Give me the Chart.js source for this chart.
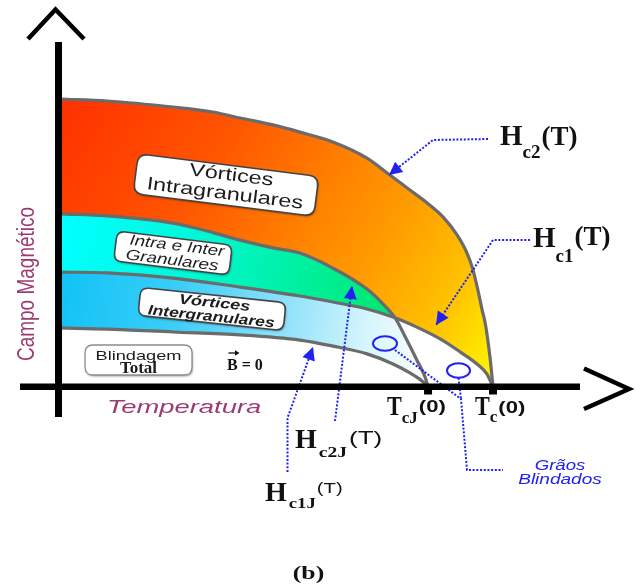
<!DOCTYPE html>
<html>
<head>
<meta charset="utf-8">
<script src="https://cdn.jsdelivr.net/npm/chart.js@4.4.1/dist/chart.umd.min.js"></script>
<style>
  html, body { margin: 0; padding: 0; background: #ffffff; }
  #wrap { width: 636px; height: 584px; }
</style>
</head>
<body>
<div id="wrap"><canvas id="c" width="636" height="584"></canvas></div>
<script>
// Reduced temperature (T / Tc x 100) and reduced field (H / Hc2(0) x 100)
// sampled along each critical line of the granular superconductor.
const T_HC2  = [0, 10.9, 26.1, 35.3, 41.6, 49.2, 55.4, 63.0, 70.9, 76.2, 80.8, 84.8, 88.5, 91.7, 94.0, 95.4, 96.5, 97.5, 98.2, 99.3, 100];
const H_HC2  = [100, 99.3, 97.2, 95.5, 93.4, 91.0, 88.5, 85.1, 79.5, 73.6, 68.4, 63.9, 59.0, 52.8, 46.5, 40.6, 33.7, 26.7, 22.2, 10.4, 0];

const T_HC2J = [0, 10.9, 26.1, 33.9, 41.6, 49.2, 55.4, 63.0, 70.9, 75.5, 77.4, 80.1, 82.4, 84.3, 85.0];
const H_HC2J = [60.1, 59.4, 56.9, 54.2, 51.0, 48.3, 46.5, 41.3, 34.0, 27.4, 24.0, 16.3, 9.4, 3.5, 0];

const T_HC1  = [0, 10.9, 26.1, 41.6, 55.4, 63.0, 70.9, 76.9, 82.4, 87.8, 92.4, 96.3, 98.6, 100];
const H_HC1  = [39.9, 39.6, 37.8, 34.7, 31.6, 29.5, 27.1, 24.3, 20.8, 16.7, 12.2, 8.0, 4.5, 0];

const T_HC1J = [0, 10.9, 26.1, 41.6, 55.4, 63.0, 70.9, 76.9, 80.8, 83.6, 85.0];
const H_HC1J = [20.5, 20.1, 19.1, 18.1, 16.3, 14.2, 11.5, 8.0, 4.9, 2.1, 0];

// Critical temperatures marked on the temperature axis
const CRIT_TEMPS = [85, 100];           // T_cJ(0), T_c(0)
const CRIT_SUBS  = ['cJ', 'c'];

// Region names
const REGION_INTRA   = ['Vórtices', 'Intragranulares'];
const REGION_MIXED   = ['Intra e Inter', 'Granulares'];
const REGION_INTER   = ['Vórtices', 'Intergranulares'];
const REGION_MEISSNER = ['Blindagem', 'Total'];
const GRAINS_LABEL   = ['Grãos', 'Blindados'];
const AXIS_Y_TITLE   = 'Campo Magnético';
const AXIS_X_TITLE   = 'Temperatura';
const PANEL_TAG      = '(b)';

const SANS = '"Liberation Sans", Arial, sans-serif';
const SERIF = '"Liberation Serif", "Times New Roman", serif';
const BLUE = '#2121f2';
const PURPLE = '#9c3a74';

const pts = (ts, hs) => ts.map((t, i) => ({ x: t, y: hs[i] }));

function gradient(chart, t0, h0, t1, h1, stops) {
  const { chartArea, scales } = chart;
  if (!chartArea || !scales.x) return stops[0][1];
  const g = chart.ctx.createLinearGradient(
    scales.x.getPixelForValue(t0), scales.y.getPixelForValue(h0),
    scales.x.getPixelForValue(t1), scales.y.getPixelForValue(h1));
  stops.forEach(([o, c]) => g.addColorStop(o, c));
  return g;
}

function roundRectPath(ctx, x, y, w, h, r) {
  ctx.beginPath();
  ctx.moveTo(x + r, y);
  ctx.lineTo(x + w - r, y);
  ctx.quadraticCurveTo(x + w, y, x + w, y + r);
  ctx.lineTo(x + w, y + h - r);
  ctx.quadraticCurveTo(x + w, y + h, x + w - r, y + h);
  ctx.lineTo(x + r, y + h);
  ctx.quadraticCurveTo(x, y + h, x, y + h - r);
  ctx.lineTo(x, y + r);
  ctx.quadraticCurveTo(x, y, x + r, y);
  ctx.closePath();
}

// Rounded, slightly tilted name tag with stretched text lines
function tag(ctx, cx, cy, w, h, r, deg, lines, border, shadow) {
  ctx.save();
  ctx.translate(cx, cy);
  ctx.rotate(deg * Math.PI / 180);
  if (shadow) {
    ctx.shadowColor = 'rgba(0,0,0,0.35)';
    ctx.shadowBlur = 2;
    ctx.shadowOffsetX = 1;
    ctx.shadowOffsetY = 1.5;
  }
  roundRectPath(ctx, -w / 2, -h / 2, w, h, r);
  ctx.fillStyle = '#ffffff';
  ctx.fill();
  ctx.shadowColor = 'rgba(0,0,0,0)';
  ctx.lineWidth = border.width;
  ctx.strokeStyle = border.color;
  ctx.stroke();
  ctx.fillStyle = '#1c1c1c';
  ctx.textAlign = 'center';
  ctx.textBaseline = 'alphabetic';
  lines.forEach(l => {
    ctx.save();
    ctx.translate(l.dx || 0, l.y);
    ctx.scale(l.sx, 1);
    ctx.font = l.font;
    ctx.fillText(l.text, 0, 0);
    ctx.restore();
  });
  ctx.restore();
}

function stretched(ctx, text, x, y, font, sx, align, color) {
  ctx.save();
  ctx.translate(x, y);
  ctx.scale(sx, 1);
  ctx.font = font;
  ctx.textAlign = align;
  ctx.textBaseline = 'alphabetic';
  ctx.fillStyle = color;
  ctx.fillText(text, 0, 0);
  ctx.restore();
}

// Text made of pieces (main letter, subscript, superscript) written left to right
function rich(ctx, x, y, parts, color) {
  ctx.save();
  ctx.fillStyle = color;
  ctx.textAlign = 'left';
  ctx.textBaseline = 'alphabetic';
  let cx = x;
  parts.forEach(p => {
    ctx.font = p.font;
    const sx = p.sx || 1;
    ctx.save();
    ctx.translate(cx, y + (p.dy || 0));
    ctx.scale(sx, 1);
    ctx.fillText(p.text, 0, 0);
    ctx.restore();
    cx += ctx.measureText(p.text).width * sx + (p.gap || 0);
  });
  ctx.restore();
}

function dotted(ctx, path) {
  ctx.save();
  ctx.strokeStyle = BLUE;
  ctx.lineWidth = 2;
  ctx.setLineDash([2, 1.7]);
  ctx.beginPath();
  ctx.moveTo(path[0][0], path[0][1]);
  for (let i = 1; i < path.length; i++) ctx.lineTo(path[i][0], path[i][1]);
  ctx.stroke();
  ctx.restore();
}

function arrowHead(ctx, from, tip, len, hw) {
  const dx = tip[0] - from[0], dy = tip[1] - from[1];
  const L = Math.hypot(dx, dy), ux = dx / L, uy = dy / L;
  const bx = tip[0] - ux * len, by = tip[1] - uy * len;
  ctx.save();
  ctx.fillStyle = BLUE;
  ctx.beginPath();
  ctx.moveTo(tip[0], tip[1]);
  ctx.lineTo(bx - uy * hw, by + ux * hw);
  ctx.lineTo(bx + uy * hw, by - ux * hw);
  ctx.closePath();
  ctx.fill();
  ctx.restore();
}

function leader(ctx, path, withHead) {
  const n = path.length;
  dotted(ctx, path);
  if (withHead) arrowHead(ctx, path[n - 2], path[n - 1], 13, 6.5);
}

const phaseDecor = {
  id: 'phaseDecor',
  afterDatasetsDraw(chart) {
    const ctx = chart.ctx;
    const X = v => chart.scales.x.getPixelForValue(v);
    const Y = v => chart.scales.y.getPixelForValue(v);
    const x0 = X(0), y0 = Y(0);

    // Region name tags
    tag(ctx, 226, 185, 182, 40, 10, 7.2, [
      { text: REGION_INTRA[0], font: '18px ' + SANS, y: -5, dx: 4, sx: 1.3 },
      { text: REGION_INTRA[1], font: '18px ' + SANS, y: 14, sx: 1.3 }
    ], { color: '#444', width: 1.6 }, true);
    tag(ctx, 173, 253, 116, 30, 8, 7, [
      { text: REGION_MIXED[0], font: 'italic 15px ' + SANS, y: -3, dx: 3, sx: 1.24 },
      { text: REGION_MIXED[1], font: 'italic 15px ' + SANS, y: 12, sx: 1.26 }
    ], { color: '#444', width: 1.6 }, true);
    tag(ctx, 212, 309, 146, 28, 8, 6, [
      { text: REGION_INTER[0], font: 'italic bold 14px ' + SANS, y: -2, dx: 2, sx: 1.3 },
      { text: REGION_INTER[1], font: 'italic bold 14px ' + SANS, y: 12, sx: 1.25 }
    ], { color: '#444', width: 1.6 }, true);
    tag(ctx, 138.5, 360, 107, 30, 8, 0, [
      { text: REGION_MEISSNER[0], font: '13px ' + SANS, y: 0, sx: 1.4 },
      { text: REGION_MEISSNER[1], font: 'bold 17px ' + SERIF, y: 13, sx: 1.0 }
    ], { color: '#8c8c8c', width: 1.3 }, true);

    // B = 0 with vector arrow over the B
    rich(ctx, 227, 370, [
      { text: 'B', font: 'bold 16px ' + SERIF },
      { text: ' = 0', font: 'bold 16px ' + SERIF }
    ], '#111');
    ctx.save();
    ctx.strokeStyle = '#111'; ctx.fillStyle = '#111'; ctx.lineWidth = 1.3;
    ctx.beginPath(); ctx.moveTo(228.5, 353); ctx.lineTo(237, 353); ctx.stroke();
    ctx.beginPath(); ctx.moveTo(239.5, 353); ctx.lineTo(235, 350.3); ctx.lineTo(235, 355.7); ctx.closePath(); ctx.fill();
    ctx.restore();

    // Shielded grains markers
    ctx.save();
    ctx.strokeStyle = BLUE; ctx.lineWidth = 2;
    ctx.beginPath(); ctx.ellipse(385, 343.5, 12, 7.3, 0, 0, Math.PI * 2); ctx.stroke();
    ctx.beginPath(); ctx.ellipse(458.5, 370.5, 11.5, 7.3, 0, 0, Math.PI * 2); ctx.stroke();
    ctx.restore();

    // Leader lines to the critical curves
    leader(ctx, [[488, 139], [433, 140], [389, 175]], true);
    leader(ctx, [[530, 240], [493, 240], [436, 325]], true);
    leader(ctx, [[335, 421], [352, 286]], true);
    leader(ctx, [[287.5, 472], [287.5, 418], [313, 347]], true);
    dotted(ctx, [[395, 350], [461, 399], [467, 470], [503, 470]]);
    dotted(ctx, [[458.5, 378], [461, 399]]);

    // Axes
    ctx.save();
    ctx.fillStyle = '#000';
    ctx.fillRect(x0 - 5, 42, 7, y0 + 30 - 42);
    ctx.fillRect(20, y0 - 3.5, 560, 6.5);
    ctx.strokeStyle = '#000';
    ctx.lineWidth = 4.5;
    ctx.lineJoin = 'miter';
    ctx.beginPath(); ctx.moveTo(28, 39); ctx.lineTo(55.5, 9.5); ctx.lineTo(84, 39); ctx.stroke();
    ctx.beginPath(); ctx.moveTo(584, 368.5); ctx.lineTo(629, 389); ctx.lineTo(584, 409); ctx.stroke();
    // critical temperature marks
    CRIT_TEMPS.forEach(t => ctx.fillRect(X(t) - 4, y0 + 2, 8, 5.5));
    ctx.restore();

    // Critical temperature labels
    CRIT_TEMPS.forEach((t, i) => {
      const lx = X(t) - (i === 0 ? 41 : 18);
      rich(ctx, lx, y0 + 28, [
        { text: 'T', font: 'bold 27px ' + SERIF, sx: 0.82 },
        { text: CRIT_SUBS[i], font: 'bold 17px ' + SERIF, dy: i === 0 ? 8 : 7, gap: 1 },
        { text: '(0)', font: 'bold 17px ' + SANS, dy: i === 0 ? -3 : -2, sx: 1.3 }
      ], '#111');
    });

    // Curve names
    const HF = 'bold 29px ' + SERIF;
    rich(ctx, 500, 145, [
      { text: 'H', font: HF },
      { text: 'c2', font: 'bold 19px ' + SERIF, dy: 13, gap: 1 },
      { text: '(T)', font: 'bold 27px ' + SERIF, dy: 0 }
    ], '#111');
    rich(ctx, 533, 247, [
      { text: 'H', font: HF },
      { text: 'c1', font: 'bold 19px ' + SERIF, dy: 15, gap: 1 },
      { text: '(T)', font: 'bold 27px ' + SERIF, dy: -2 }
    ], '#111');
    rich(ctx, 295, 448, [
      { text: 'H', font: 'bold 28px ' + SERIF, gap: 2 },
      { text: 'c2J', font: 'bold 15px ' + SERIF, dy: 9, sx: 1.3, gap: 2 },
      { text: '(T)', font: '18px ' + SANS, dy: -4, sx: 1.45 }
    ], '#111');
    rich(ctx, 265, 501, [
      { text: 'H', font: 'bold 28px ' + SERIF, gap: 2 },
      { text: 'c1J', font: 'bold 15px ' + SERIF, dy: 7, sx: 1.25, gap: 1 },
      { text: '(T)', font: '14.5px ' + SANS, dy: -8, sx: 1.4 }
    ], '#111');

    // Shielded grains caption
    stretched(ctx, GRAINS_LABEL[0], 560, 470, 'italic 14px ' + SANS, 1.33, 'center', BLUE);
    stretched(ctx, GRAINS_LABEL[1], 560, 484, 'italic 14px ' + SANS, 1.36, 'center', BLUE);

    // Axis titles
    stretched(ctx, AXIS_X_TITLE, 107, 413, 'italic 18.5px ' + SANS, 1.48, 'left', PURPLE);
    ctx.save();
    ctx.translate(34, 284);
    ctx.scale(1.3, 1);
    ctx.rotate(-Math.PI / 2);
    ctx.font = '19px ' + SANS;
    ctx.textAlign = 'center';
    ctx.textBaseline = 'alphabetic';
    ctx.fillStyle = PURPLE;
    ctx.fillText(AXIS_Y_TITLE, 0, 0);
    ctx.restore();

    // Panel tag
    stretched(ctx, PANEL_TAG, 308.5, 579, 'bold 19px ' + SERIF, 1.35, 'center', '#111');
  }
};

new Chart(document.getElementById('c'), {
  type: 'scatter',
  data: {
    datasets: [
      {
        label: 'Hc2J(T)',
        data: pts(T_HC2J, H_HC2J),
        showLine: true,
        fill: { target: 2, below: 'rgba(0,0,0,0)' },
        backgroundColor: c => gradient(c.chart, 0, 45, 77, 25,
          [[0, '#00ffff'], [0.35, '#00f9dc'], [0.7, '#00f0a2'], [1, '#00e86c']])
      },
      {
        label: 'Hc1J(T)',
        data: pts(T_HC1J, H_HC1J),
        showLine: true,
        fill: { target: 0 },
        backgroundColor: c => gradient(c.chart, 0, 30, 85, 5,
          [[0, '#12c3f6'], [0.3, '#3acdf8'], [0.6, '#90e2fa'], [0.82, '#d6f5fd'], [1, '#ffffff']])
      },
      {
        label: 'Hc1(T)',
        data: pts(T_HC1, H_HC1),
        showLine: true,
        fill: false
      },
      {
        label: 'Hc2(T)',
        data: pts(T_HC2, H_HC2),
        showLine: true,
        fill: { target: 2 },
        backgroundColor: c => gradient(c.chart, 2, 96, 99, 4,
          [[0, '#ff3300'], [0.3, '#ff5600'], [0.52, '#ff8000'], [0.68, '#ff9c00'], [0.86, '#ffc400'], [1, '#fff200']])
      }
    ]
  },
  options: {
    responsive: false,
    animation: false,
    events: [],
    layout: { padding: 0 },
    scales: {
      x: { type: 'linear', min: -60 / 4.33, max: 576 / 4.33, display: false },
      y: { type: 'linear', min: -197 / 2.88, max: 387 / 2.88, display: false }
    },
    elements: {
      line: { borderColor: '#6b6b6b', borderWidth: 3.2, cubicInterpolationMode: 'monotone', borderJoinStyle: 'round' },
      point: { radius: 0, hoverRadius: 0 }
    },
    plugins: {
      legend: { display: false },
      tooltip: { enabled: false },
      filler: { drawTime: 'beforeDatasetsDraw', propagate: false }
    }
  },
  plugins: [phaseDecor]
});
</script>
</body>
</html>
